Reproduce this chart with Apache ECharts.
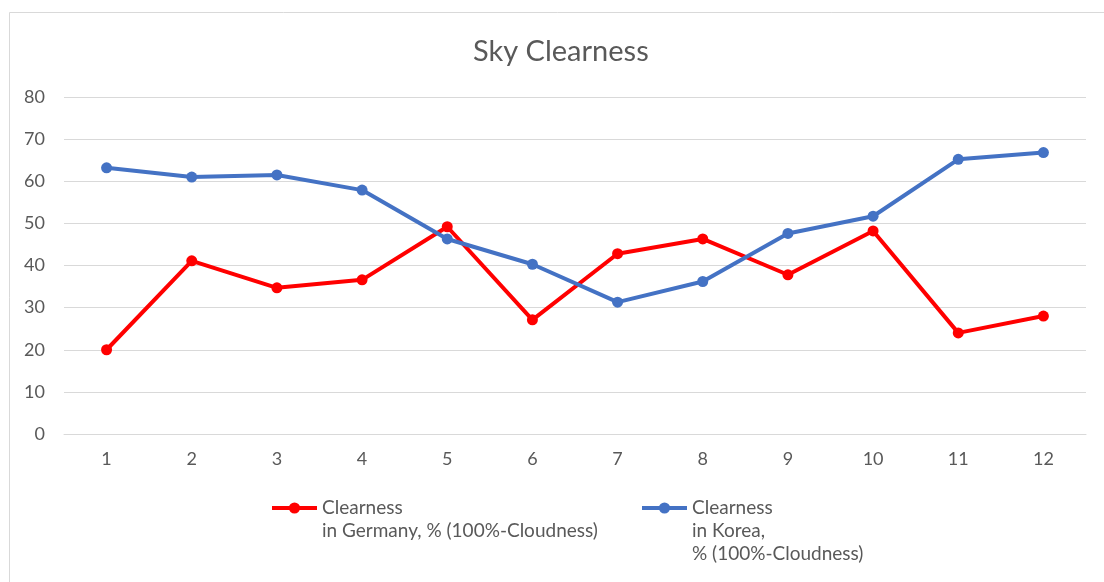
<!DOCTYPE html>
<html>
<head>
<meta charset="utf-8">
<script src="https://cdn.jsdelivr.net/npm/echarts@6/dist/echarts.min.js"></script>
<style>
html,body{margin:0;padding:0;background:#fff;}
#chart{width:1104px;height:582px;}
</style>
</head>
<body>
<div id="chart"></div>
<script>
const titleText = 'Sky Clearness';
const months = ['1','2','3','4','5','6','7','8','9','10','11','12'];
const germanyName = 'Clearness\nin Germany, % (100%-Cloudness)';
const koreaName = 'Clearness\nin Korea,\n% (100%-Cloudness)';
const germany = [20, 41.1, 34.7, 36.6, 49.2, 27.1, 42.8, 46.3, 37.8, 48.2, 24, 28];
const korea = [63.2, 61.0, 61.5, 57.9, 46.3, 40.3, 31.3, 36.2, 47.6, 51.7, 65.2, 66.8];

const FONT = 'Lato, "Liberation Sans", sans-serif';
const TXT = '#595959';
const chart = echarts.init(document.getElementById('chart'), null, {renderer: 'canvas'});

function legendCfg(name, left, blanks, color) {
  return {
    data: [name],
    left: left,
    top: 508 - ((name.split('\n').length + blanks) * 23) / 2,
    padding: 0,
    itemWidth: 45,
    itemHeight: 14,
    itemGap: 5,
    selectedMode: false,
    lineStyle: {width: 4, color: color},
    itemStyle: {color: color},
    formatter: function (n) { return '\n'.repeat(blanks) + n; },
    textStyle: {fontFamily: FONT, fontSize: 19, color: TXT, lineHeight: 23}
  };
}

chart.setOption({
  animation: false,
  backgroundColor: '#fff',
  graphic: [{
    type: 'rect', shape: {x: 9.5, y: 12.5, width: 1100, height: 580},
    style: {fill: 'none', stroke: '#d9d9d9', lineWidth: 1}, silent: true
  }],
  title: {
    text: titleText, left: 468, top: 32,
    textStyle: {fontFamily: FONT, fontSize: 29, fontWeight: 'normal', color: TXT}
  },
  legend: [
    legendCfg(germanyName, 270, 1, '#ff0000'),
    legendCfg(koreaName, 640, 2, '#4472c4')
  ],
  grid: {left: 64, right: 18, top: 97, bottom: 148, containLabel: false},
  xAxis: {
    type: 'category', data: months, boundaryGap: true,
    axisLine: {lineStyle: {color: '#d9d9d9', width: 1}},
    axisTick: {show: false},
    axisLabel: {fontFamily: FONT, fontSize: 18, color: TXT, margin: 16}
  },
  yAxis: {
    type: 'value', min: 0, max: 80, interval: 10,
    axisLine: {show: false}, axisTick: {show: false},
    axisLabel: {fontFamily: FONT, fontSize: 18, color: TXT, margin: 19},
    splitLine: {lineStyle: {color: '#d9d9d9', width: 1}}
  },
  series: [
    {
      name: germanyName, type: 'line', data: germany,
      symbol: 'circle', symbolSize: 11,
      lineStyle: {color: '#ff0000', width: 4},
      itemStyle: {color: '#ff0000'}
    },
    {
      name: koreaName, type: 'line', data: korea,
      symbol: 'circle', symbolSize: 11,
      lineStyle: {color: '#4472c4', width: 4},
      itemStyle: {color: '#4472c4'}
    }
  ]
});
</script>
</body>
</html>
